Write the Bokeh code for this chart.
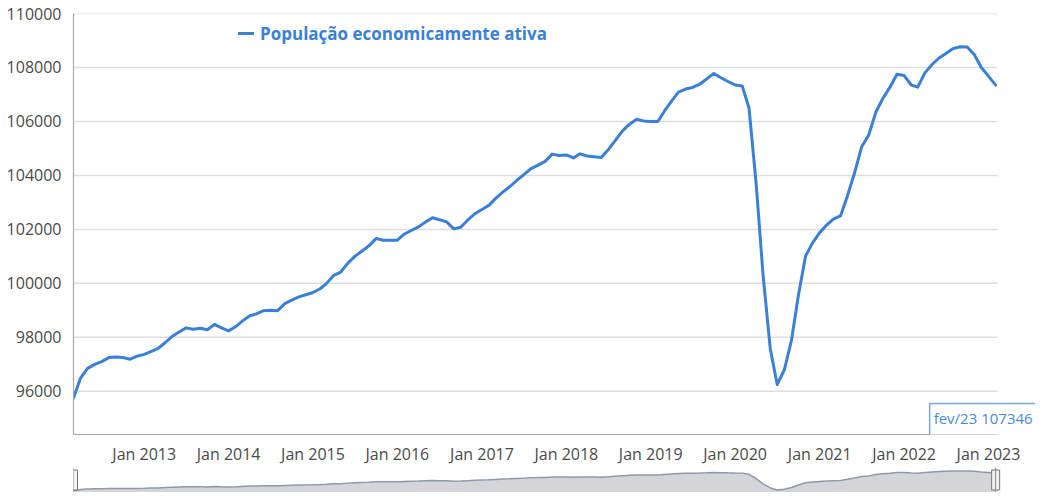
import pandas as pd
from bokeh.plotting import figure
from bokeh.models import (ColumnDataSource, Range1d, FixedTicker, DatetimeTickFormatter,
                          Legend, LegendItem, Label, Span, BasicTickFormatter)
from bokeh.layouts import column
from bokeh.embed import file_html
from bokeh.resources import INLINE

# ---------------- data ----------------
start_month = "2012-03"
series_name = "População economicamente ativa"
values = [
    95750, 96500, 96850, 97000, 97100, 97250, 97270, 97250, 97190, 97300,
    97370, 97480, 97580, 97800, 98030, 98200, 98350, 98300, 98340, 98280,
    98480, 98350, 98240, 98400, 98600, 98790, 98870, 98990, 99000, 98990,
    99250, 99380, 99500, 99580, 99660, 99800, 100000, 100300, 100420, 100750,
    101000, 101200, 101400, 101660, 101600, 101600, 101600, 101830, 101960, 102090,
    102270, 102430, 102360, 102280, 102020, 102080, 102350, 102580, 102740, 102900,
    103150, 103380, 103580, 103820, 104030, 104250, 104380, 104520, 104790, 104740,
    104760, 104650, 104800, 104720, 104690, 104660, 104950, 105300, 105650, 105900,
    106080, 106020, 106000, 106000, 106380, 106750, 107090, 107200, 107260, 107380,
    107580, 107780, 107620, 107480, 107350, 107310, 106500, 103700, 100300, 97580,
    96250, 96800, 97900, 99570, 101020, 101500, 101880, 102170, 102380, 102500,
    103250, 104100, 105050, 105500, 106350, 106850, 107270, 107750, 107700, 107350,
    107270, 107800, 108100, 108350, 108520, 108700, 108770, 108760, 108470, 108000,
    107680, 107346,
]
tick_years = [2013, 2014, 2015, 2016, 2017, 2018, 2019, 2020, 2021, 2022, 2023]
y_ticks = [96000, 98000, 100000, 102000, 104000, 106000, 108000, 110000]
pt_months = ["jan", "fev", "mar", "abr", "mai", "jun", "jul", "ago", "set", "out", "nov", "dez"]

dates = pd.date_range(start=start_month, periods=len(values), freq="MS")
src = ColumnDataSource(dict(date=dates, value=values))

# ---------------- geometry / style ----------------
BLUE = "#3a80d6"
FONT = "Open Sans"
Y_START, Y_END = 94400, 110000
W = 1035
MAIN_H = 467
NAV_H = 25
B_LEFT, B_TOP, B_BOTTOM = 73, 13, 29
FRAME_H = MAIN_H - B_TOP - B_BOTTOM
PLOT_W = 924                      # width of the drawn plot area (grid extent)
FRAME_W = W - B_LEFT              # frame goes to the canvas edge (room for the tooltip)

grid_end = dates[-1] + pd.Timedelta(days=8)
span_days = (grid_end - dates[0]).days
x_end = dates[0] + pd.Timedelta(days=span_days * FRAME_W / PLOT_W)
x_range = Range1d(dates[0], x_end)

p = figure(width=W, height=MAIN_H, x_axis_type="datetime", output_backend="svg",
           toolbar_location=None, x_range=x_range, y_range=Range1d(Y_START, Y_END),
           min_border_left=B_LEFT, min_border_right=0,
           min_border_top=B_TOP, min_border_bottom=B_BOTTOM)
p.outline_line_color = None
p.background_fill_color = "white"
p.border_fill_color = "white"

# horizontal grid lines limited to the plot area
p.xgrid.grid_line_color = None
p.ygrid.grid_line_color = None
p.segment(x0=[dates[0]] * len(y_ticks), x1=[grid_end] * len(y_ticks),
          y0=y_ticks, y1=y_ticks, line_color="#dedede", line_width=1.5)

r = p.line("date", "value", source=src, line_color=BLUE, line_width=3,
           line_join="round", line_cap="round")

# axes
p.xaxis.ticker = FixedTicker(ticks=[pd.Timestamp(f"{y}-01-01").value / 1e6 for y in tick_years])
fmt = "%b %Y"
p.xaxis.formatter = DatetimeTickFormatter(years=fmt, months=fmt, days=fmt, hours=fmt,
                                          minutes=fmt, seconds=fmt, milliseconds=fmt,
                                          microseconds=fmt, hourmin=fmt, minsec=fmt)
p.xaxis.bounds = (dates[0], grid_end)
p.yaxis.ticker = FixedTicker(ticks=y_ticks)
p.yaxis.formatter = BasicTickFormatter(use_scientific=False)
for ax in (p.xaxis[0], p.yaxis[0]):
    ax.major_tick_line_color = None
    ax.minor_tick_line_color = None
    ax.axis_line_color = "#a8a8a8"
    ax.axis_line_width = 1.2
    ax.major_label_text_font = FONT
    ax.major_label_text_font_size = "16px"
    ax.major_label_text_color = "#4a4a4a"
p.xaxis.major_label_standoff = 2
p.yaxis.major_label_standoff = 6

# legend
legend = Legend(items=[LegendItem(label=series_name, renderers=[r])],
                location=(165, FRAME_H - 36), orientation="horizontal",
                glyph_width=16, glyph_height=18, label_height=24, label_standoff=6,
                label_text_font=FONT, label_text_font_style="bold",
                label_text_font_size="17px", label_text_color=BLUE,
                border_line_color=None, background_fill_color="white",
                background_fill_alpha=1.0, padding=3, margin=0)
p.add_layout(legend)

# tooltip-like label for the last point
last = dates[-1]
tip = Label(x=last, y=Y_START + 12 * (Y_END - Y_START) / FRAME_H, x_offset=-66,
            text=f"{pt_months[last.month - 1]}/{last.strftime('%y')} {values[-1]}",
            text_font=FONT, text_font_size="15px", text_color="#4d8ad3",
            text_align="left", text_baseline="middle",
            background_fill_color="white", border_line_color="#7fa8da",
            border_line_width=1.5, padding=(4, 8, 4, 14))
p.add_layout(tip)

# ---------------- navigator ----------------
NAV_LO, NAV_HI = 94600, 111000
nav = figure(width=W, height=NAV_H, x_axis_type="datetime", output_backend="svg",
             toolbar_location=None, x_range=x_range, y_range=Range1d(NAV_LO, NAV_HI),
             min_border_left=B_LEFT, min_border_right=0,
             min_border_top=0, min_border_bottom=0,
             x_axis_location=None, y_axis_location=None)
nav.outline_line_color = None
nav.grid.grid_line_color = None
nav.varea(x="date", y1=NAV_LO, y2="value", source=src, fill_color="#d3d5d8", fill_alpha=1.0)
nav.line("date", "value", source=src, line_color="#8d9aae", line_width=1.5)
for d in (dates[0], dates[-1]):
    nav.add_layout(Span(location=d, dimension="height", line_color="#888888", line_width=1))
handle_y = (NAV_LO + NAV_HI) / 2
nav.rect(x=[dates[0], dates[-1]], y=[handle_y, handle_y], width=8, height=20,
         width_units="screen", height_units="screen",
         fill_color="#f2f2f2", line_color="#777777", line_width=1)

layout = column(p, nav, spacing=0)

open("out.html", "w").write(file_html(layout, INLINE))
